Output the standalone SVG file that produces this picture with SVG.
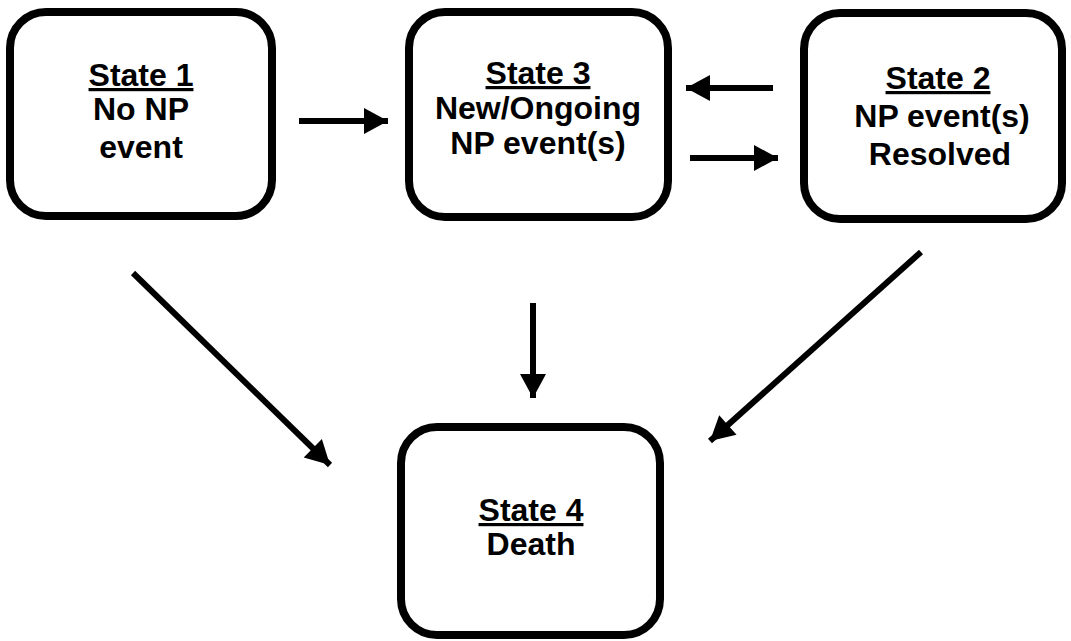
<svg xmlns="http://www.w3.org/2000/svg" width="1071" height="641" viewBox="0 0 1071 641">
<style>
.box{fill:#fff;stroke:#000;stroke-width:8}
.t{font-family:"Liberation Sans",Arial,sans-serif;font-weight:bold;font-size:32px;text-anchor:middle;fill:#000}
.u{text-decoration:underline}
.c{stroke:#000;stroke-width:6;fill:none;marker-end:url(#ah)}
</style>
<defs>
<marker id="ah" markerUnits="userSpaceOnUse" markerWidth="30" markerHeight="30" refX="24" refY="13" orient="auto" overflow="visible">
<polygon points="0,0 24,13 0,26" fill="#000"/>
</marker>
</defs>
<rect width="1071" height="641" fill="#fff"/>
<g id="state1">
<rect class="box" x="10" y="12" width="262" height="204" rx="36"/>
<text class="t" x="141" y="86"><tspan class="u">State 1</tspan></text>
<text class="t" x="141" y="120">No NP</text>
<text class="t" x="141" y="158">event</text>
</g>
<g id="state3">
<rect class="box" x="409" y="12" width="259" height="205" rx="36"/>
<text class="t" x="538" y="84"><tspan class="u">State 3</tspan></text>
<text class="t" x="538" y="119">New/Ongoing</text>
<text class="t" x="538" y="154">NP event(s)</text>
</g>
<g id="state2">
<rect class="box" x="804" y="13" width="258" height="206" rx="36"/>
<text class="t" x="938" y="89"><tspan class="u">State 2</tspan></text>
<text class="t" x="942" y="127">NP event(s)</text>
<text class="t" x="940" y="165">Resolved</text>
</g>
<g id="state4">
<rect class="box" x="401" y="427" width="259" height="208" rx="36"/>
<text class="t" x="531" y="521"><tspan class="u">State 4</tspan></text>
<text class="t" x="531" y="555">Death</text>
</g>
<g id="connectors">
<line class="c" x1="299" y1="121" x2="388" y2="121"/>
<line class="c" x1="773" y1="88" x2="686" y2="88"/>
<line class="c" x1="690" y1="158" x2="778" y2="158"/>
<line class="c" x1="133" y1="273" x2="330" y2="465"/>
<line class="c" x1="533" y1="303" x2="533" y2="398"/>
<line class="c" x1="921" y1="252" x2="710" y2="441"/>
</g>
</svg>
